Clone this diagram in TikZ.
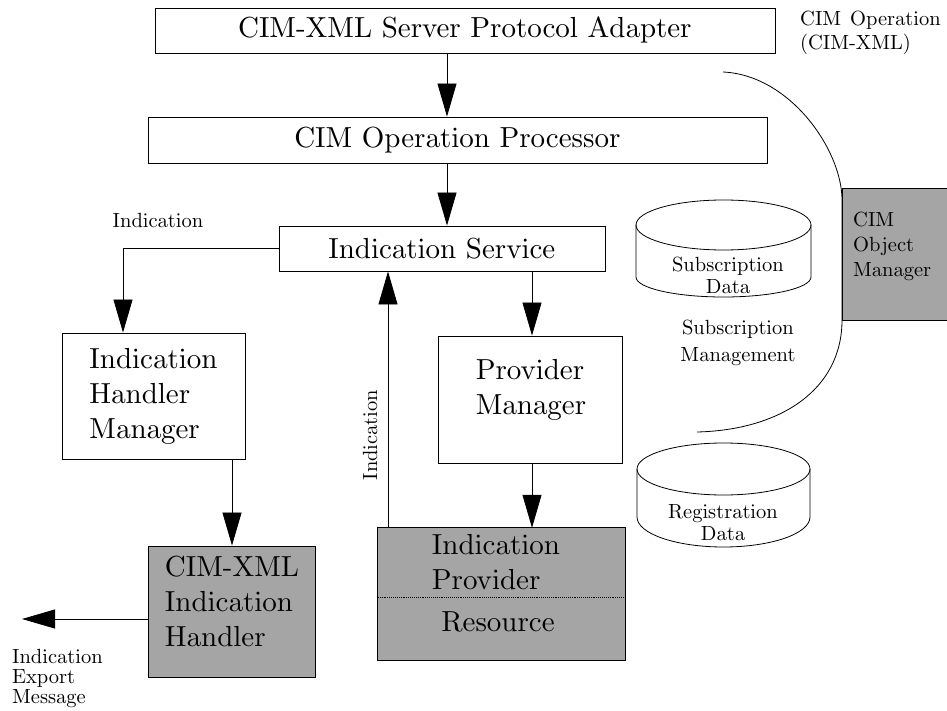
\documentclass[tikz,border=0pt]{standalone}
\usetikzlibrary{arrows.meta}
\font\bigf=cmr10 at 29pt
\font\smallf=cmr10 at 20.5pt
\definecolor{shade}{RGB}{165,165,165}
\tikzset{
 box/.style={draw, line width=0.9pt, inner sep=0pt},
 shaded/.style={box, fill=shade},
 bigtxt/.style={font={\bigf\baselineskip=35pt\relax}, align=left, inner sep=0pt},
 smalltxt/.style={font={\smallf\baselineskip=22pt\relax}, inner sep=0pt},
 arr/.style={line width=0.8pt, -{Triangle[length=33pt,width=19pt]}},
 thinline/.style={line width=0.8pt},
}
\begin{document}
\begin{tikzpicture}[x=1pt,y=-1pt]
\useasboundingbox (0,0) rectangle (947,711);

% curve (drawn first, partly hidden by the CIM Object Manager box)
\draw[thinline] (723,72) .. controls (790,75) and (842,150) .. (842,200) -- (842,320) .. controls (842,390) and (780,430) .. (697,432);

% main boxes
\node[box, bigtxt, minimum width=620pt, minimum height=45pt] (adapter) at (465,30.5) {CIM-XML Server Protocol Adapter};
\node[box, bigtxt, minimum width=619pt, minimum height=46pt] (proc) at (457.5,140) {CIM Operation Processor};
\node[box, bigtxt, minimum width=326pt, minimum height=45pt] (is) at (442,248.5) {Indication Service};
\node[box, bigtxt, minimum width=183pt, minimum height=126pt] (hm) at (153.5,396) {Indication\\Handler\\Manager};

\node[shaded, minimum width=167pt, minimum height=131pt] (xh) at (231.5,611.5) {};
\node[bigtxt] (xhtext) at (232,601.5) {CIM-XML\\Indication\\Handler};

\node[box, minimum width=184pt, minimum height=127pt] (pm) at (530,399.5) {};
\node[bigtxt] (pmtext) at (531,390) {Provider\\Manager};

\node[fill=shade, inner sep=0pt, minimum width=247pt, minimum height=69pt] (ip) at (501.5,562.5) {};
\node[fill=shade, inner sep=0pt, minimum width=247pt, minimum height=63pt] (res) at (501.5,628.5) {};
\draw[line width=0.9pt] (ip.north west) rectangle (res.south east);
\draw[densely dotted, line width=0.9pt] (ip.south west) -- (ip.south east);
\node[bigtxt] (iptext) at (496,561.5) {Indication\\Provider};
\node[bigtxt] (restext) at (498,622) {Resource};

% CIM Object Manager
\node[shaded, minimum width=112pt, minimum height=132pt, anchor=north west] (com) at (842,188) {};
\node[smalltxt, align=left, anchor=north west, font={\smallf\baselineskip=25pt\relax}] (comtext) at (853,212) {CIM\\Object\\Manager};

% cylinders
\draw[thinline] (723.5,225) ellipse [x radius=87.5pt, y radius=25pt];
\draw[thinline] (636,225) -- (636,277) arc[start angle=180, end angle=360, x radius=87.5pt, y radius=20pt] -- (811,225);
\node[smalltxt, align=center] (subdata) at (728,275.5) {Subscription\\Data};

\draw[thinline] (723.5,469) ellipse [x radius=86.5pt, y radius=26pt];
\draw[thinline] (637,469) -- (637,517) arc[start angle=180, end angle=360, x radius=86.5pt, y radius=30pt] -- (810,469);
\node[smalltxt, align=center] (regdata) at (723,522) {Registration\\Data};

% labels
\node[smalltxt, align=left, anchor=north west, font={\smallf\baselineskip=24pt\relax}] (cimop) at (800,11) {CIM\hspace{9pt}Operation\\(CIM-XML)};
\node[smalltxt] (indlbl) at (158,220) {Indication};
\node[smalltxt, align=left, anchor=north west, font={\smallf\baselineskip=20pt\relax}] (export) at (12,649) {Indication\\Export\\Message};
\node[smalltxt, align=center, font={\smallf\baselineskip=27pt\relax}] (submgmt) at (738,342.5) {Subscription\\Management};
\node[smalltxt, rotate=90] (indv) at (370,435) {Indication};

% connectors
\coordinate (xa) at (447,0);
\coordinate (xb) at (123,0);
\coordinate (xc) at (532,0);
\coordinate (xd) at (388,0);
\coordinate (xe) at (232,0);
\coordinate (ye) at (0,619);
\coordinate (expend) at (22,619);
\draw[arr] (adapter.south -| xa) -- (proc.north -| xa);
\draw[arr] (proc.south -| xa) -- (is.north -| xa);
\draw[arr] (is.west) -| (hm.north -| xb);
\draw[arr] (is.south -| xc) -- (pm.north -| xc);
\draw[arr] (pm.south -| xc) -- (ip.north -| xc);
\draw[arr] (ip.north -| xd) -- (is.south -| xd);
\draw[arr] (hm.south -| xe) -- (xh.north -| xe);
\draw[arr] (xh.west |- ye) -- (expend);
\end{tikzpicture}
\end{document}
